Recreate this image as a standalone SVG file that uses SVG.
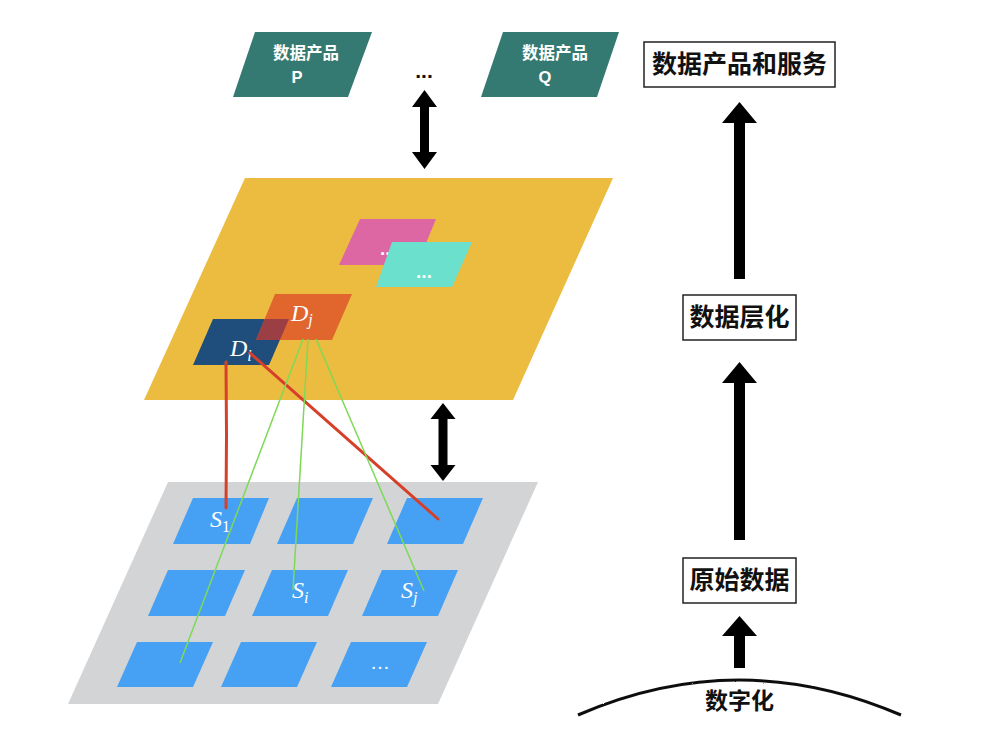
<svg xmlns="http://www.w3.org/2000/svg" width="1000" height="737" viewBox="0 0 1000 737">
  <defs>
    <style>
      .prod { fill: #357A72; }
      .prodtxt { fill: #ffffff; font-family: "Liberation Sans", "Noto Sans CJK SC", sans-serif; font-weight: bold; font-size: 16.5px; text-anchor: middle; }
      .cell { fill: #46A1F5; }
      .math { fill: #ffffff; font-family: "Liberation Serif", "DejaVu Serif", serif; font-style: italic; }
      .box { fill: #ffffff; stroke: #222222; stroke-width: 1.5; }
      .boxtxt { fill: #111111; font-family: "Noto Sans CJK SC", sans-serif; font-weight: bold; font-size: 25px; text-anchor: middle; }
      .arrow { fill: #000000; }
      .red { stroke: #D6402B; stroke-width: 3; fill: none; stroke-linecap: round; }
      .green { stroke: #7ED957; stroke-width: 1.5; fill: none; }
    </style>
    <filter id="rough" filterUnits="userSpaceOnUse" x="0" y="0" width="1000" height="737">
      <feTurbulence type="fractalNoise" baseFrequency="0.9" numOctaves="2" result="n"/>
      <feDisplacementMap in="SourceGraphic" in2="n" scale="1.6"/>
    </filter>
  </defs>

  <rect width="1000" height="737" fill="#ffffff"/>

  <!-- Data products -->
  <g id="product-p">
    <polygon class="prod" points="255,32 372,32 348,97 233,97"/>
    <text class="prodtxt" x="306" y="59">数据产品</text>
    <text class="prodtxt" x="297" y="83">P</text>
  </g>
  <g id="product-dots">
    <text x="424" y="78" font-family="Liberation Sans, sans-serif" font-weight="bold" font-size="21" text-anchor="middle" fill="#111">...</text>
  </g>
  <g id="product-q">
    <polygon class="prod" points="503,32 619,32 597,97 481,97"/>
    <text class="prodtxt" x="555" y="59">数据产品</text>
    <text class="prodtxt" x="545" y="83">Q</text>
  </g>

  <!-- Layered data plane -->
  <g id="layer-plane">
    <polygon fill="#ECBC40" points="245,178 613,178 513,400 144,400"/>
  </g>
  <g id="layer-pink">
    <polygon fill="#DC67A3" points="360,219 436,219 417,265 339,265"/>
    <text x="388" y="255" font-family="Liberation Sans, sans-serif" font-weight="bold" font-size="19" text-anchor="middle" fill="#fff">...</text>
  </g>
  <g id="layer-cyan">
    <polygon fill="#6BE0CC" points="392,242 472,242 452,287 376,287"/>
    <text x="424" y="278" font-family="Liberation Sans, sans-serif" font-weight="bold" font-size="19" text-anchor="middle" fill="#fff">...</text>
  </g>
  <g id="node-di">
    <polygon fill="#1F4E7C" points="213,319 289,319 269,365 193,365"/>
    <text class="math" x="230" y="356" font-size="24">D<tspan font-size="16" dy="5">i</tspan></text>
  </g>
  <g id="node-dj">
    <polygon fill="#E0662E" points="275,294 352,294 332,340 256,340"/>
    <polygon fill="#9C3F44" points="264.7,319 289,319 279.9,340 256,340"/>
    <text class="math" x="291" y="321" font-size="24">D<tspan font-size="16" dy="4">j</tspan></text>
  </g>

  <!-- Raw data plane -->
  <g id="raw-plane">
    <polygon fill="#D3D4D6" points="168,482 538,482 438,704 68,704"/>
  </g>
  <g id="cell-s1">
    <polygon class="cell" points="193,498 269,498 250,544 173,544"/>
    <text class="math" x="210" y="527" font-size="24">S<tspan font-size="16" dy="5" font-style="normal">1</tspan></text>
  </g>
  <g id="cell-2">
    <polygon class="cell" points="297,498 373,498 353,544 277,544"/>
  </g>
  <g id="cell-3">
    <polygon class="cell" points="407,498 483,498 463,544 387,544"/>
  </g>
  <g id="cell-4">
    <polygon class="cell" points="168,570 245,570 225,616 148,616"/>
  </g>
  <g id="cell-si">
    <polygon class="cell" points="272,570 348,570 328,616 252,616"/>
    <text class="math" x="292" y="598" font-size="24">S<tspan font-size="16" dy="5">i</tspan></text>
  </g>
  <g id="cell-sj">
    <polygon class="cell" points="382,570 458,570 438,616 362,616"/>
    <text class="math" x="401" y="598" font-size="24">S<tspan font-size="16" dy="5">j</tspan></text>
  </g>
  <g id="cell-7">
    <polygon class="cell" points="137,642 213,642 193,687 117,687"/>
  </g>
  <g id="cell-8">
    <polygon class="cell" points="241,642 317,642 297,687 221,687"/>
  </g>
  <g id="cell-9">
    <polygon class="cell" points="351,642 427,642 407,687 331,687"/>
    <text x="380" y="669" font-family="Liberation Serif, serif" font-size="19" text-anchor="middle" fill="#fff">…</text>
  </g>

  <!-- Right column -->
  <g id="box-products">
    <rect class="box" x="644" y="42" width="191" height="45"/>
    <text class="boxtxt" x="739.5" y="73">数据产品和服务</text>
  </g>
  <g id="box-layering">
    <rect class="box" x="683" y="295" width="113" height="45"/>
    <text class="boxtxt" x="739.5" y="326">数据层化</text>
  </g>
  <g id="box-raw">
    <rect class="box" x="683" y="558" width="113" height="45"/>
    <text class="boxtxt" x="739.5" y="589">原始数据</text>
  </g>
  <g id="digitize">
    <path d="M578,715 Q739,645 901,715" fill="none" stroke="#111" stroke-width="3" filter="url(#rough)"/>
    <text x="739.5" y="709" font-family="Noto Sans CJK SC, sans-serif" font-weight="bold" font-size="23" text-anchor="middle" fill="#111">数字化</text>
  </g>

  <!-- Connectors -->
  <g id="connectors">
    <path class="red" d="M226,362 L226.5,435 L226,508" filter="url(#rough)"/>
    <path class="red" d="M250,353 L438,519" filter="url(#rough)"/>
    <line class="green" x1="303" y1="339" x2="180" y2="663"/>
    <line class="green" x1="308" y1="339" x2="293" y2="590"/>
    <line class="green" x1="316" y1="339" x2="424" y2="591"/>
    <path class="arrow" d="M424.5,90 L437,107 L429,107 L429,152 L437,152 L424.5,169 L412,152 L420,152 L420,107 L412,107 Z"/>
    <path class="arrow" d="M443,403 L455.5,419 L447.5,419 L447.5,465 L455.5,465 L443,481 L430.5,465 L438.5,465 L438.5,419 L430.5,419 Z"/>
    <path class="arrow" d="M739.5,102 L757,123 L745,123 L745,279 L734,279 L734,123 L722,123 Z"/>
    <path class="arrow" d="M739.5,362 L757,383 L745,383 L745,540 L734,540 L734,383 L722,383 Z"/>
    <path class="arrow" d="M739.5,616 L757,636 L745,636 L745,668 L734,668 L734,636 L722,636 Z"/>
  </g>
</svg>
